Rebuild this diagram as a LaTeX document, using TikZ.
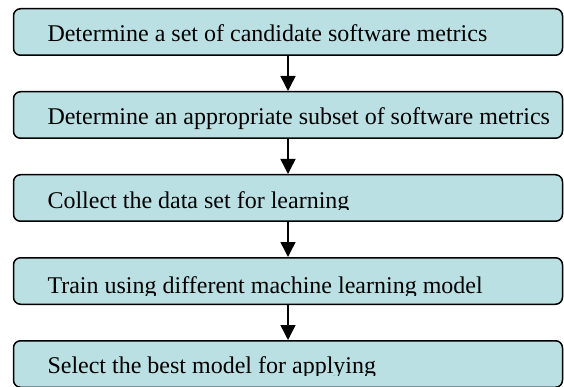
\documentclass[tikz,border=0pt]{standalone}
\usepackage{fontspec}
\setmainfont{Liberation Serif}
\usetikzlibrary{positioning}
\usetikzlibrary{arrows.meta}
\definecolor{boxfill}{RGB}{187,224,227}

\begin{document}
\begin{tikzpicture}[x=1pt,y=1pt,node distance=35pt,line width=1.5pt,
  stepbox/.style={draw,fill=boxfill,rounded corners=7pt,minimum width=549pt,minimum height=46.5pt,inner sep=0pt},
  steptext/.style={anchor=base west,inner sep=0pt,font=\fontsize{24}{28}\selectfont},
  flow/.style={-{Triangle[width=15pt,length=15pt]}}]
  \clip (0,0) rectangle (564,-387);
  \node[stepbox] (metrics) at (288,-32) {};
  \node[below= of metrics,stepbox] (subset) {};
  \node[below= of subset,stepbox] (data) {};
  \node[below= of data,stepbox] (train) {};
  \node[below= of train,stepbox] (select) {};
  \node[steptext] (metricstext) at ([xshift=34pt,yshift=-10pt]metrics.west) {Determine a set of candidate software metrics};
  \node[steptext] (subsettext) at ([xshift=34pt,yshift=-10pt]subset.west) {Determine an appropriate subset of software metrics};
  \begin{scope}
    \clip ([yshift=-12pt]data.west) rectangle (data.north east);
    \node[steptext] (datatext) at ([xshift=34pt,yshift=-10pt]data.west) {Collect the data set for learning};
  \end{scope}
  \begin{scope}
    \clip ([yshift=-14pt]train.west) rectangle (train.north east);
    \node[steptext] (traintext) at ([xshift=34pt,yshift=-12pt]train.west) {Train using different machine learning model};
  \end{scope}
  \begin{scope}
    \clip ([yshift=-11pt]select.west) rectangle (select.north east);
    \node[steptext] (selecttext) at ([xshift=34pt,yshift=-9pt]select.west) {Select the best model for applying};
  \end{scope}
  \draw[flow] (metrics)--(subset);
  \draw[flow] (subset)--(data);
  \draw[flow] (data)--(train);
  \draw[flow] (train)--(select);
\end{tikzpicture}
\end{document}
